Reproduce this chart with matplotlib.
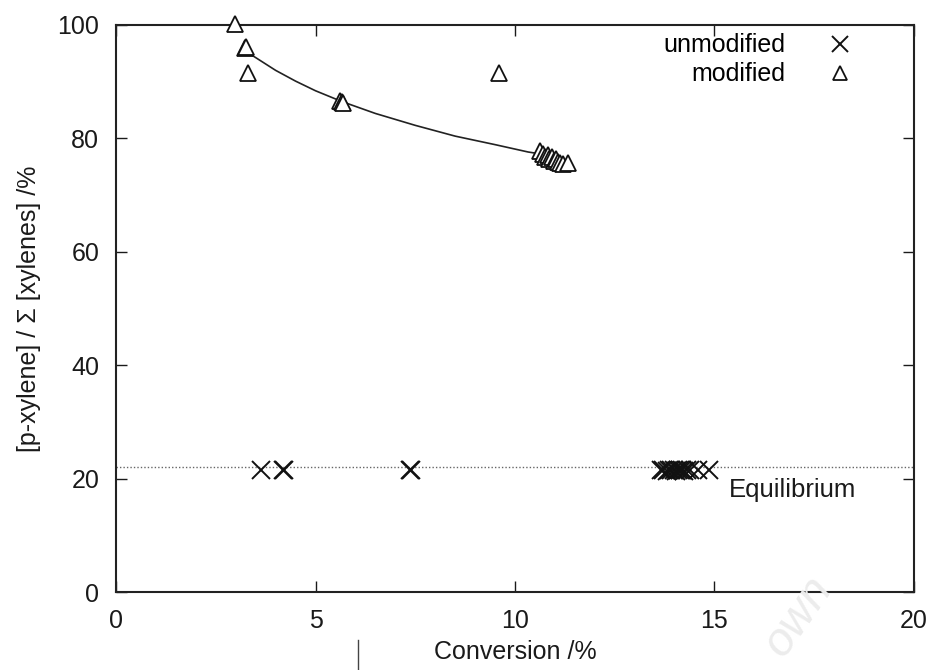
import matplotlib
matplotlib.use("Agg")
import matplotlib.pyplot as plt
from matplotlib.lines import Line2D

plt.rcParams['font.family'] = ['Liberation Sans', 'DejaVu Sans']

# unmodified catalyst (crosses)
unmod_x = [3.63, 4.19, 4.21, 7.36, 7.40, 13.65, 13.72, 13.80, 13.86, 13.92, 13.98,
           14.03, 14.08, 14.13, 14.18, 14.24, 14.30, 14.38, 14.58, 14.87]
unmod_y = [21.6, 21.5, 21.6, 21.5, 21.6, 21.5, 21.6, 21.4, 21.6, 21.5, 21.6,
           21.4, 21.6, 21.5, 21.6, 21.4, 21.5, 21.6, 21.5, 21.5]

# modified catalyst (triangles)
mod_x = [2.98, 3.23, 3.26, 3.31, 5.62, 5.66, 5.70, 9.61,
         10.62, 10.70, 10.76, 10.82, 10.86, 10.92, 10.97, 11.02, 11.07, 11.12, 11.20, 11.33]
mod_y = [100.2, 95.9, 96.1, 91.5, 86.6, 86.4, 86.2, 91.6,
         77.8, 77.2, 76.8, 77.0, 76.4, 76.7, 76.1, 76.3, 75.8, 75.6, 75.5, 75.6]

# fitted trend line
fit_x = [3.4, 4.0, 4.5, 5.0, 5.66, 6.5, 7.5, 8.5, 9.5, 10.33, 10.6]
fit_y = [94.7, 92.0, 90.1, 88.4, 86.5, 84.4, 82.3, 80.4, 78.9, 77.6, 77.3]

equilibrium = 22.0

fig = plt.figure(figsize=(9.29, 6.70), dpi=100)
ax = fig.add_axes([0.1249, 0.1164, 0.8589, 0.8463])

ax.axhline(equilibrium, color='#666666', lw=1.0, ls=(0, (1, 1.5)), zorder=1)
ax.plot(fit_x, fit_y, color='#222222', lw=1.2, zorder=2)
ax.plot(unmod_x, unmod_y, ls='none', marker='x', ms=13, mew=1.4, color='#111111',
        label='unmodified', zorder=3, clip_on=False)
ax.plot(mod_x, mod_y, ls='none', marker='^', ms=12, mew=1.3, mfc='white', mec='#111111',
        label='modified', zorder=4, clip_on=False)

ax.text(15.35, 18.0, 'Equilibrium', fontsize=18.5, va='center', ha='left', color='#1a1a1a')

ax.set_xlim(0, 20)
ax.set_ylim(0, 100)
ax.set_xticks([0, 5, 10, 15, 20])
ax.set_yticks([0, 20, 40, 60, 80, 100])
ax.tick_params(direction='in', length=8, width=1.0, labelsize=18, top=True, right=True,
               colors='#1a1a1a')
ax.tick_params(axis='x', pad=12)
ax.tick_params(axis='y', pad=12)
for s in ax.spines.values():
    s.set_linewidth(1.5)
    s.set_color('#222222')

ax.set_xlabel('Conversion /%', fontsize=18, labelpad=5, color='#1a1a1a')
ax.set_ylabel('[p-xylene] / \u03a3 [xylenes] /%', fontsize=18, labelpad=12, color='#1a1a1a')

ax.legend(loc='upper right', bbox_to_anchor=(0.945, 0.985), frameon=False, markerfirst=False,
          fontsize=18, handlelength=2.4, handletextpad=1.0, labelspacing=0.2,
          borderpad=0, borderaxespad=0, markerscale=0.85)

# scan artifacts
fig.add_artist(Line2D([358 / 929, 358 / 929], [1 - 640 / 670, 1 - 670 / 670],
                      color='#444444', lw=1.0))
fig.text(0.86, 0.08, 'own', fontsize=34, rotation=55, color='#ececec', ha='center', va='center',
         style='italic', zorder=0)

fig.savefig('out.png', dpi=100)
